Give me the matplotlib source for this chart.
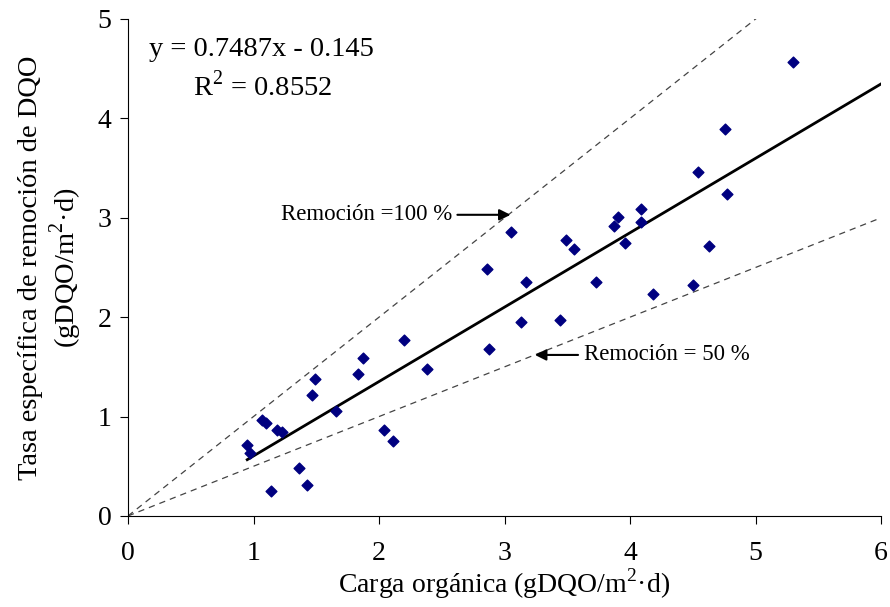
import numpy as np
import matplotlib.pyplot as plt

plt.rcParams['font.family'] = ['Liberation Serif', 'DejaVu Serif']
plt.rcParams['mathtext.fontset'] = 'custom'
plt.rcParams['mathtext.rm'] = 'Liberation Serif'

# Datos
carga = [0.95, 0.97, 1.07, 1.10, 1.19, 1.23, 1.14, 1.36, 1.43, 1.47, 1.49, 1.66,
         1.83, 1.87, 2.04, 2.11, 2.20, 2.38, 3.05, 2.86, 3.17, 3.13, 2.88, 3.49,
         3.55, 3.73, 3.44, 3.87, 3.90, 3.96, 4.09, 4.09, 4.18, 4.50, 4.63, 4.77,
         5.30, 4.76, 4.54]
tasa = [0.71, 0.63, 0.97, 0.94, 0.86, 0.84, 0.25, 0.48, 0.31, 1.22, 1.38, 1.06,
        1.43, 1.59, 0.86, 0.75, 1.77, 1.48, 2.86, 2.48, 2.35, 1.95, 1.68, 2.78,
        2.69, 2.35, 1.97, 2.92, 3.01, 2.75, 3.09, 2.96, 2.23, 2.32, 2.72, 3.24,
        4.57, 3.89, 3.46]

pendiente = 0.7487
intercepto = -0.145

fig = plt.figure(figsize=(8.9, 6.07), dpi=100)
ax = fig.add_axes([0.1438, 0.15, 0.8462, 0.8187])

xx = np.array([0, 6])
ax.plot(xx, xx, ls=(0, (5, 4)), color='#444444', lw=0.9)
ax.plot(xx, 0.5 * xx, ls=(0, (5, 4)), color='#444444', lw=0.9)

xt = np.array([min(carga), 6])
ax.plot(xt, pendiente * xt + intercepto, color='black', lw=2)

ax.scatter(carga, tasa, marker='D', s=30, color='#000080', zorder=3)

ax.set_xlim(0, 6)
ax.set_ylim(0, 5)
ax.set_xticks(range(7))
ax.set_yticks(range(6))
for s in ['top', 'right']:
    ax.spines[s].set_visible(False)
ax.tick_params(direction='out', length=6, labelsize=20, pad=12)
ax.tick_params(axis='y', pad=6)

ax.set_xlabel('Carga orgánica (gDQO/m$^{2}$·d)', fontsize=20, labelpad=0)
ax.set_ylabel('Tasa específica de remoción de DQO\n(gDQO/m$^{2}$·d)', fontsize=20.5,
              linespacing=1.15, labelpad=10)

ax.text(0.17, 4.63, 'y = 0.7487x - 0.145', fontsize=20.5)
ax.text(0.52, 4.23, 'R$^{2}$ = 0.8552', fontsize=20.5)

ax.annotate('Remoción =100 %', xy=(3.07, 3.03), xytext=(2.58, 3.03),
            fontsize=16.5, ha='right', va='center',
            arrowprops=dict(arrowstyle='-|>', color='black', lw=1.5))
ax.annotate('Remoción = 50 %', xy=(3.22, 1.62), xytext=(3.63, 1.62),
            fontsize=16.5, ha='left', va='center',
            arrowprops=dict(arrowstyle='-|>', color='black', lw=1.5))

fig.savefig('out.png', dpi=100)
